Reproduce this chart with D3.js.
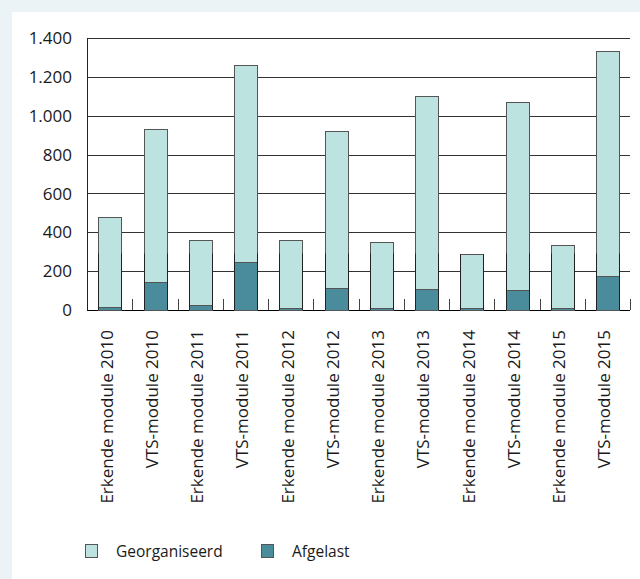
<!DOCTYPE html>
<html><head><meta charset="utf-8">
<script src="https://cdn.jsdelivr.net/npm/d3@7"></script>
<style>
html,body{margin:0;padding:0;background:#ebf3f7;}
svg{display:block;}
text{font-family:"Open Sans",Lato,sans-serif;fill:#1a1a1a;}
</style></head><body>
<svg id="c" width="640" height="579"></svg>
<script>
const categories = ["Erkende module 2010","VTS-module 2010","Erkende module 2011","VTS-module 2011","Erkende module 2012","VTS-module 2012","Erkende module 2013","VTS-module 2013","Erkende module 2014","VTS-module 2014","Erkende module 2015","VTS-module 2015"];
const afgelast = [14,144,24,249,12,115,8,108,10,101,10,173];
const georganiseerd = [466,788,338,1010,350,806,340,992,277,970,323,1158];
const yTicks = [0,200,400,600,800,1000,1200,1400];
const seriesNames = ["Afgelast","Georganiseerd"];
const colors = {"Georganiseerd":"#bde3e1","Afgelast":"#4a8c9b"};

const svg = d3.select("#c");
svg.append("rect").attr("x",12).attr("y",12).attr("width",628).attr("height",567).attr("fill","#fff");

const m = {l:87, r:630, t:38, b:310};
const x = d3.scaleBand().domain(categories).range([m.l,m.r]).paddingInner(0.5).paddingOuter(0.25);
const xb = d3.scaleBand().domain(categories).range([m.l,m.r]);
const y = d3.scaleLinear().domain([0,1400]).range([m.b,m.t]);

const fmt = v => d3.format(",")(v).replace(/,/g,".");

// gridlines
svg.append("g").selectAll("line").data(yTicks).join("line")
  .attr("x1",m.l).attr("x2",m.r).attr("y1",d=>Math.round(y(d))+0.5).attr("y2",d=>Math.round(y(d))+0.5)
  .attr("stroke",d=>d===0?"#000":"#333").attr("stroke-width",1);
// left axis line
svg.append("line").attr("x1",m.l+0.5).attr("x2",m.l+0.5).attr("y1",y(1400)).attr("y2",y(0)+0.5).attr("stroke","#222");

// y labels
svg.append("g").selectAll("text").data(yTicks).join("text")
  .attr("x",72).attr("y",d=>y(d)).attr("dy","0.36em").attr("text-anchor","end")
  .style("font-size","17px").text(fmt);

// boundary ticks
const bounds = categories.slice(1).map(c=>xb(c)).concat([m.r]);
svg.append("g").selectAll("line").data(bounds).join("line")
  .attr("x1",d=>Math.round(d)+0.5).attr("x2",d=>Math.round(d)+0.5).attr("y1",y(0)).attr("y2",y(0)-11)
  .attr("stroke","#444");

// stacked bars
const rows = categories.map((c,i)=>({cat:c,Afgelast:afgelast[i],Georganiseerd:georganiseerd[i]}));
const stack = d3.stack().keys(seriesNames)(rows);
const bw = x.bandwidth();
svg.append("g").selectAll("g").data(stack).join("g")
  .attr("fill",d=>colors[d.key])
  .selectAll("rect").data(d=>d).join("rect")
  .attr("x",d=>Math.round(x(d.data.cat))+0.5)
  .attr("width",Math.round(bw))
  .attr("y",d=>Math.round(y(d[1]))+0.5)
  .attr("height",d=>Math.max(0,Math.round(y(d[0]))-Math.round(y(d[1]))))
  .attr("stroke","#555").attr("stroke-width",1);

// darker lower edges (as in reference rendering)
const edgeTop = 290;
rows.forEach((r,i)=>{
  const tot = r.Afgelast + r.Georganiseerd;
  const top = y(Math.min(tot,edgeTop));
  [Math.round(x(r.cat))+0.5, Math.round(x(r.cat))+Math.round(bw)+0.5].forEach(ex=>{
    svg.append("line").attr("x1",ex).attr("x2",ex).attr("y1",top).attr("y2",y(0))
      .attr("stroke","#222").attr("stroke-width",1);
  });
});

// category labels
svg.append("g").selectAll("text").data(categories).join("text")
  .attr("transform",d=>`translate(${x(d)+bw/2},330) rotate(-90)`)
  .attr("dy","3px").attr("text-anchor","end")
  .style("font-size","17px").text(d=>d);

// legend
const legendItems = ["Georganiseerd","Afgelast"];
const lx = [85,261];
const lg = svg.append("g").selectAll("g").data(legendItems).join("g")
  .attr("transform",(d,i)=>`translate(${lx[i]},544)`);
lg.append("rect").attr("x",0.5).attr("y",0.5).attr("width",12).attr("height",13)
  .attr("fill",d=>colors[d]).attr("stroke","#555");
lg.append("text").attr("x",31).attr("y",7).attr("dy","0.36em").style("font-size","15.5px").text(d=>d);
</script>
</body></html>
